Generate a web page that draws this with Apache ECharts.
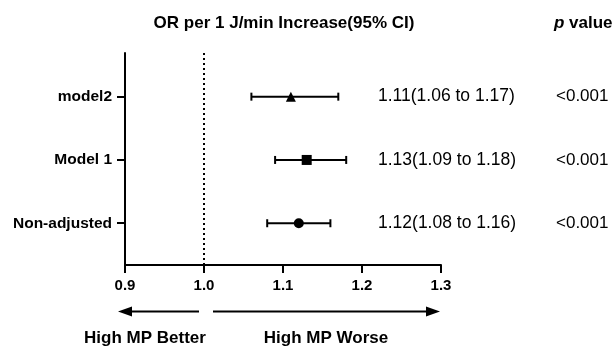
<!DOCTYPE html>
<html>
<head>
<meta charset="utf-8">
<script src="https://cdn.jsdelivr.net/npm/echarts@6/dist/echarts.min.js"></script>
<style>
  html, body { margin: 0; padding: 0; background: #fff; }
  #forest { width: 615px; height: 348px; }
</style>
</head>
<body>
<div id="forest"></div>
<script>
// rows from bottom to top
const categories = ['Non-adjusted', 'Model 1', 'model2'];
const orValues = [1.12, 1.13, 1.11];
const ciLower = [1.08, 1.09, 1.06];
const ciUpper = [1.16, 1.18, 1.17];
const ciLabels = ['1.12(1.08 to 1.16)', '1.13(1.09 to 1.18)', '1.11(1.06 to 1.17)'];
const pValues = ['<0.001', '<0.001', '<0.001'];
const markerSymbols = ['circle', 'rect', 'triangle'];
const markerSizes = [10, 10, 10];
const xTicks = [0.9, 1.0, 1.1, 1.2, 1.3];
const refLine = 1.0;

const FONT = '"Liberation Sans", Arial, sans-serif';
const chart = echarts.init(document.getElementById('forest'));

const rowPos = categories.map((c, i) => i + 1);

const options = {
    backgroundColor: '#fff',
    animation: false,
    grid: { left: 125, right: 174, top: 53, bottom: 83 },
    xAxis: {
        type: 'value',
        min: xTicks[0],
        max: xTicks[xTicks.length - 1],
        interval: 0.1,
        axisLine: { lineStyle: { color: '#000', width: 2 } },
        axisTick: { show: true, length: 8, lineStyle: { color: '#000', width: 2 } },
        axisLabel: {
            color: '#000', fontFamily: FONT, fontWeight: 'bold', fontSize: 15, margin: 13,
            formatter: v => v.toFixed(1)
        },
        splitLine: { show: false }
    },
    yAxis: {
        type: 'value',
        min: 0.34,
        max: 3.69,
        axisLine: { show: true, lineStyle: { color: '#000', width: 2 } },
        axisTick: { show: true, length: 8, customValues: rowPos, lineStyle: { color: '#000', width: 2 } },
        axisLabel: {
            customValues: rowPos,
            color: '#000', fontFamily: FONT, fontWeight: 'bold', fontSize: 15.5, margin: 13,
            formatter: v => categories[Math.round(v) - 1] || ''
        },
        splitLine: { show: false }
    },
    series: [
        {
            // confidence intervals with end caps
            type: 'custom',
            data: categories.map((c, i) => [ciLower[i], ciUpper[i], rowPos[i]]),
            renderItem: (params, api) => {
                const y = api.value(2);
                const p1 = api.coord([api.value(0), y]);
                const p2 = api.coord([api.value(1), y]);
                const cap = 4;
                const style = { stroke: '#000', lineWidth: 2 };
                return {
                    type: 'group',
                    children: [
                        { type: 'line', shape: { x1: p1[0], y1: p1[1], x2: p2[0], y2: p2[1] }, style },
                        { type: 'line', shape: { x1: p1[0], y1: p1[1] - cap, x2: p1[0], y2: p1[1] + cap }, style },
                        { type: 'line', shape: { x1: p2[0], y1: p2[1] - cap, x2: p2[0], y2: p2[1] + cap }, style }
                    ]
                };
            },
            markLine: {
                silent: true,
                symbol: 'none',
                label: { show: false },
                lineStyle: { color: '#000', width: 2, type: [2, 3] },
                data: [{ xAxis: refLine }]
            },
            z: 2
        },
        {
            type: 'scatter',
            data: categories.map((c, i) => ({
                value: [orValues[i], rowPos[i]],
                symbol: markerSymbols[i],
                symbolSize: markerSizes[i]
            })),
            itemStyle: { color: '#000', opacity: 1 },
            z: 3
        },
        {
            // OR (95% CI) and p value text columns
            type: 'custom',
            data: categories.map((c, i) => [rowPos[i], i]),
            renderItem: (params, api) => {
                const idx = api.value(1);
                const p = api.coord([xTicks[xTicks.length - 1], api.value(0)]);
                const font = '17.5px ' + FONT;
                return {
                    type: 'group',
                    children: [
                        { type: 'text', x: p[0] - 63, y: p[1], style: { text: ciLabels[idx], font, fill: '#000', align: 'left', verticalAlign: 'middle' } },
                        { type: 'text', x: p[0] + 115, y: p[1], style: { text: pValues[idx], font: '17px ' + FONT, fill: '#000', align: 'left', verticalAlign: 'middle' } }
                    ]
                };
            },
            z: 4
        }
    ],
    graphic: [
        { type: 'text', x: 284, y: 23, style: { text: 'OR per 1 J/min Increase(95% CI)', font: 'bold 17px ' + FONT, fill: '#000', align: 'center', verticalAlign: 'middle' } },
        { type: 'text', x: 554, y: 23, style: { text: '{i|p} value', rich: { i: { fontStyle: 'italic', fontWeight: 'bold', fontSize: 17, fontFamily: FONT } }, font: 'bold 17px ' + FONT, fill: '#000', align: 'left', verticalAlign: 'middle' } },
        // left arrow
        { type: 'line', shape: { x1: 199, y1: 311.5, x2: 128, y2: 311.5 }, style: { stroke: '#000', lineWidth: 2 } },
        { type: 'polygon', shape: { points: [[118, 311.5], [132, 306.5], [132, 316.5]] }, style: { fill: '#000' } },
        // right arrow
        { type: 'line', shape: { x1: 213, y1: 311.5, x2: 430, y2: 311.5 }, style: { stroke: '#000', lineWidth: 2 } },
        { type: 'polygon', shape: { points: [[440, 311.5], [426, 306.5], [426, 316.5]] }, style: { fill: '#000' } },
        { type: 'text', x: 145, y: 338, style: { text: 'High MP Better', font: 'bold 17px ' + FONT, fill: '#000', align: 'center', verticalAlign: 'middle' } },
        { type: 'text', x: 326, y: 338, style: { text: 'High MP Worse', font: 'bold 17px ' + FONT, fill: '#000', align: 'center', verticalAlign: 'middle' } }
    ]
};

chart.setOption(options);
</script>
</body>
</html>
